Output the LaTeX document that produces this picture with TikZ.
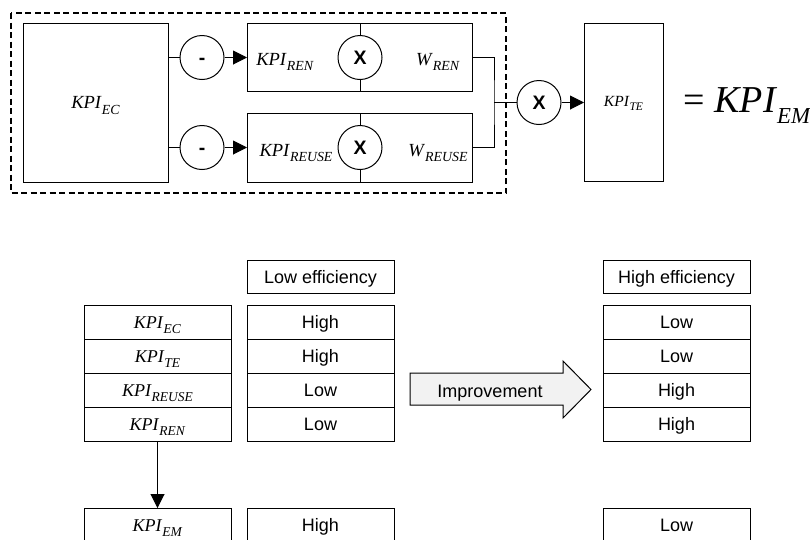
\documentclass[tikz,border=0pt]{standalone}
\usepackage{fontspec}
\setmainfont{Liberation Serif}
\setsansfont{Liberation Sans}
\usetikzlibrary{arrows.meta,positioning}
\newcommand{\lbl}[3][.75]{\textit{#2}\raisebox{-.3em}{\scalebox{#1}{\textit{#3}}}}

\begin{document}
\begin{tikzpicture}[x=1pt,y=-1pt,line width=1pt,
    blk/.style={draw,rectangle,outer sep=0pt,inner sep=0pt},
    opr/.style={draw,circle,fill=white,minimum size=44pt,inner sep=0pt,
        text height=13pt,text depth=0pt,
        font=\sffamily\bfseries\fontsize{19.5}{21}\selectfont},
    cell/.style={draw,rectangle,outer sep=0pt,inner sep=0pt,minimum width=147pt,
        minimum height=34pt,text height=13pt,text depth=0pt,
        font=\sffamily\fontsize{18}{20}\selectfont},
    kcell/.style={cell,font=\fontsize{18}{20}\selectfont},
    tip/.style={-{Triangle[length=14pt,width=14pt]}}]

    \useasboundingbox (0,0) rectangle (810,539);
    \clip (0,0) rectangle (810,539);

    % upper part: calculation of KPI_EM
    \draw[line width=1.4pt,dash pattern=on 6pt off 3.5pt] (11,13) rectangle (506,193);

    \node[blk,minimum width=145pt,minimum height=159pt,text height=12pt,text depth=0pt,
        font=\fontsize{18.5}{20}\selectfont] (ec) at (95.5,102.5) {\lbl{KPI}{EC}};

    \node[blk,minimum width=225pt,minimum height=68pt] (ren) at (359.5,57.5) {};
    \node[blk,minimum width=225pt,minimum height=69pt] (reuse) at (359.5,147.5) {};

    \node[opr] (m1) at (202,57.5) {-};
    \node[opr] (m2) at (202,147.5) {-};
    \node[opr] (xr) at (360,57.5) {X};
    \node[opr] (xu) at (360,147.5) {X};
    \node[opr] (xt) at (539,102.5) {X};

    \node[anchor=base,font=\fontsize{18.5}{20}\selectfont] (lren) at (285,65) {\lbl{KPI}{REN}};
    \node[anchor=base,font=\fontsize{18.5}{20}\selectfont] (wren) at (438,65) {\lbl{W}{REN}};
    \node[anchor=base,font=\fontsize{18.5}{20}\selectfont] (lreuse) at (296,156) {\lbl{KPI}{REUSE}};
    \node[anchor=base,font=\fontsize{18.5}{20}\selectfont] (wreuse) at (438,156) {\lbl{W}{REUSE}};

    \node[blk,minimum width=79pt,minimum height=158pt,text height=10pt,text depth=3pt,
        font=\fontsize{15.5}{17}\selectfont] (te) at (623.5,102.5) {\lbl{KPI}{TE}};

    \node[anchor=base west,inner sep=0pt,font=\fontsize{38}{40}\selectfont] (em) at (683,112)
        {= \lbl[.6]{KPI}{EM}};

    % connections
    \draw (ec.east |- m1) -- (m1);
    \draw (ec.east |- m2) -- (m2);
    \draw[tip] (m1) -- (ren);
    \draw[tip] (m2) -- (reuse);
    \draw (ren.north -| xr) -- (xr);
    \draw (xr) -- (ren.south -| xr);
    \draw (reuse.north -| xu) -- (xu);
    \draw (xu) -- (reuse.south -| xu);

    \coordinate (join) at (494,102.5);
    \draw (ren.east) -| (join) |- (reuse.east);
    \draw (join) -- (xt);
    \draw[tip] (xt) -- (te);

    % lower part: table
    \node[kcell] (kec) at (157.5,322) {\lbl{KPI}{EC}};
    \node[kcell,below=0pt of kec] (kte) {\lbl{KPI}{TE}};
    \node[kcell,below=0pt of kte] (kreuse) {\lbl{KPI}{REUSE}};
    \node[kcell,below=0pt of kreuse] (kren) {\lbl{KPI}{REN}};
    \node[kcell,below=67pt of kren] (kem) {\lbl{KPI}{EM}};

    \node[cell,right=16pt of kec] (lo1) {High};
    \node[cell,below=0pt of lo1] (lo2) {High};
    \node[cell,below=0pt of lo2] (lo3) {Low};
    \node[cell,below=0pt of lo3] (lo4) {Low};
    \node[cell,right=16pt of kem] (loem) {High};
    \node[cell,minimum height=33pt,above=12pt of lo1] (lohead) {Low efficiency};

    \node[cell] (hi1) at (676.5,322) {Low};
    \node[cell,below=0pt of hi1] (hi2) {Low};
    \node[cell,below=0pt of hi2] (hi3) {High};
    \node[cell,below=0pt of hi3] (hi4) {High};
    \node[cell,below=67pt of hi4] (hiem) {Low};
    \node[cell,minimum height=33pt,above=12pt of hi1] (hihead) {High efficiency};

    \draw[tip] (kren) -- (kem);

    % improvement arrow
    \draw[fill=black!5] (410,373) -- (563,373) -- (563,361) -- (591,389.5)
        -- (563,418) -- (563,405) -- (410,405) -- cycle;
    \node[anchor=base,font=\sffamily\fontsize{18}{20}\selectfont] (impr) at (490,397) {Improvement};
\end{tikzpicture}
\end{document}
